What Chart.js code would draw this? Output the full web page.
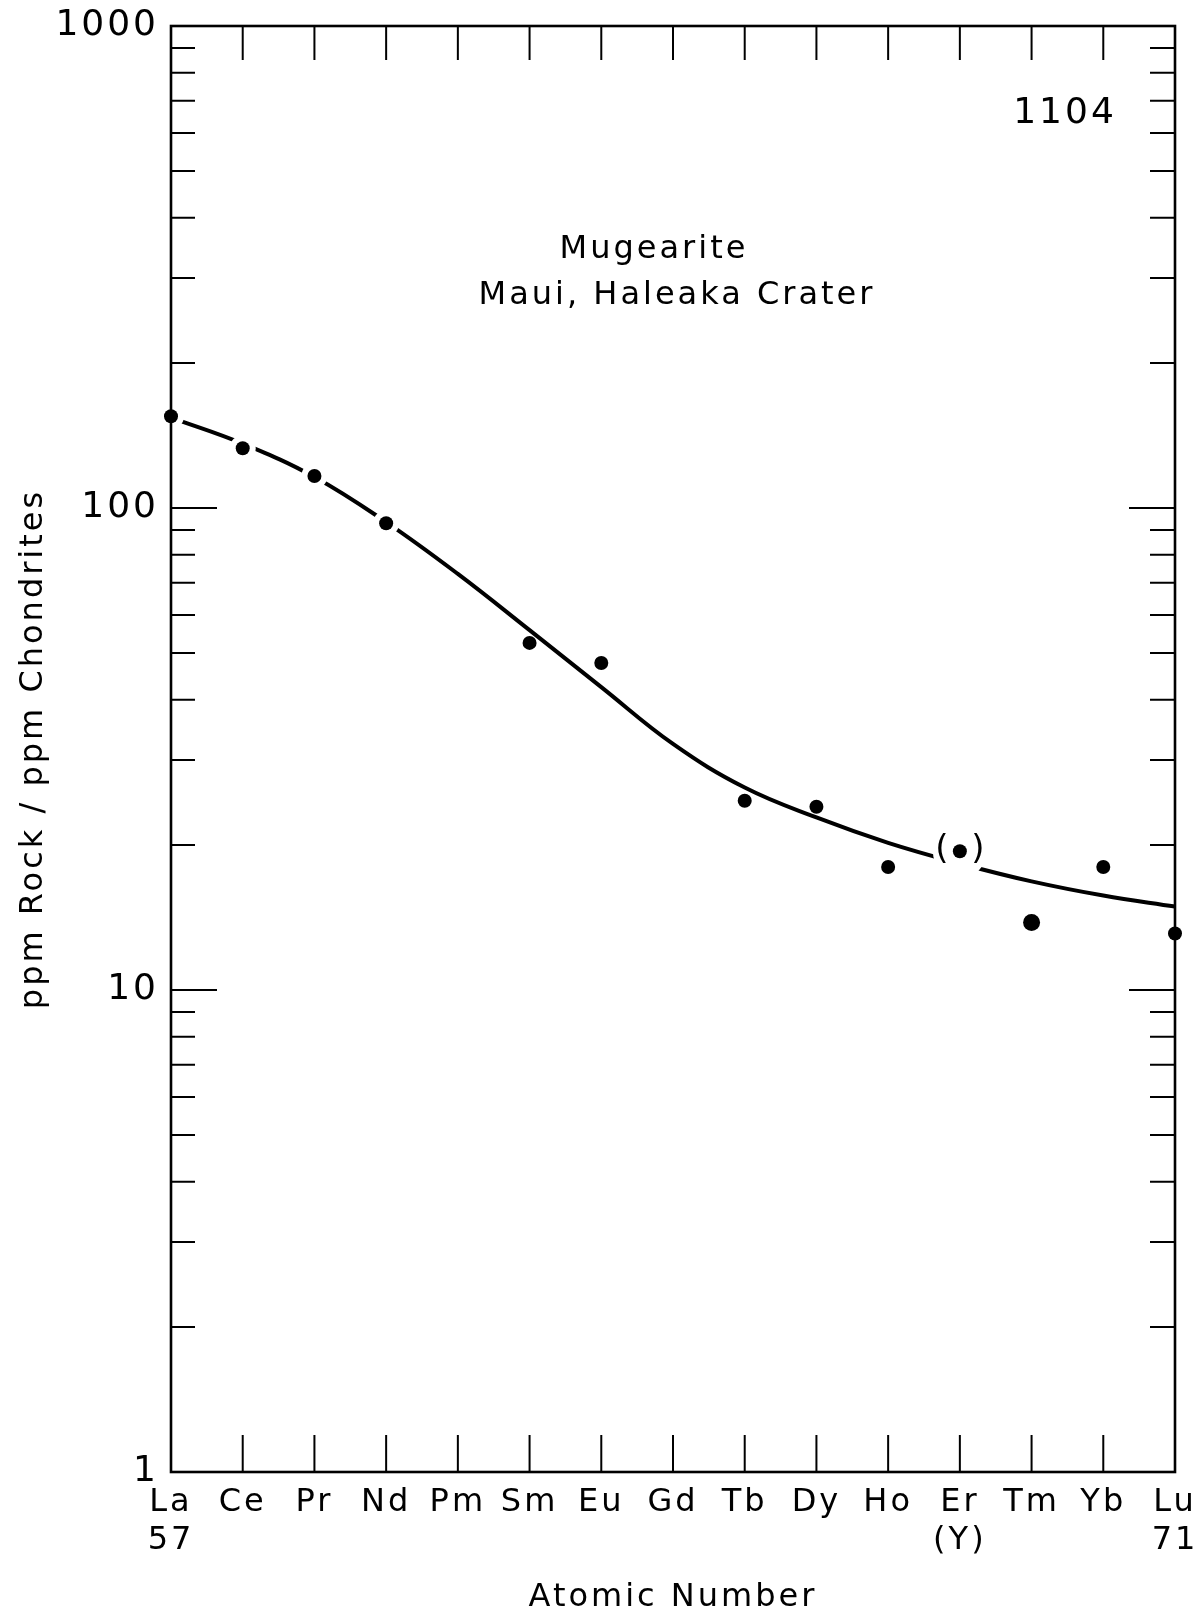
<!DOCTYPE html>
<html>
<head>
<meta charset="utf-8">
<title>Mugearite REE pattern</title>
<script src="https://cdn.jsdelivr.net/npm/chart.js@4.4.1/dist/chart.umd.min.js"></script>
<style>
    html, body { margin: 0; padding: 0; background: #fff; }
    #wrap { width: 1202px; height: 1617px; }
</style>
</head>
<body>
<div id="wrap"><canvas id="reeChart" width="1202" height="1617"></canvas></div>
<script>
// Rare earth elements, La (57) to Lu (71)
const elements = ['La', 'Ce', 'Pr', 'Nd', 'Pm', 'Sm', 'Eu', 'Gd', 'Tb', 'Dy', 'Ho', 'Er', 'Tm', 'Yb', 'Lu'];
const subLabels = ['57', '', '', '', '', '', '', '', '', '', '', '(Y)', '', '', '71'];

// chondrite-normalised abundances (ppm rock / ppm chondrites)
const measured = [155, 133, 116.5, 93, null, 52.5, 47.7, null, 24.7, 24.0, 18.0, 19.4, 13.8, 18.0, 13.1];
// smooth curve drawn through the pattern
const fitted = [154, 136, 116, 93.5, 73, 55.8, 42.5, 32.4, 26.3, 22.8, 20.2, 18.3, 16.8, 15.7, 14.9];

const yTickValues = [1, 10, 100, 1000];
const minorSteps = [2, 3, 4, 5, 6, 7, 8, 9];

const FONT = "'DejaVu Sans', sans-serif";

// line is broken where it runs through these dots
const brokenAt = ['La', 'Ce', 'Pr', 'Nd'];
const bracketedAt = 'Er';

// wide lettering for every text drawn on the canvas
const spacing = {
    id: 'spacing',
    beforeInit(chart) { chart.ctx.letterSpacing = '3px'; },
    beforeDraw(chart) { chart.ctx.letterSpacing = '3px'; }
};

const curveGaps = {
    id: 'curveGaps',
    afterDatasetDraw(chart, args) {
        if (args.index !== 1) return;
        const ctx = chart.ctx;
        const x = chart.scales.x, y = chart.scales.y;
        ctx.save();
        ctx.fillStyle = '#fff';
        brokenAt.forEach(el => {
            const i = elements.indexOf(el);
            ctx.beginPath();
            ctx.arc(x.getPixelForValue(i), y.getPixelForValue(measured[i]), 13, 0, Math.PI * 2);
            ctx.fill();
        });
        const e = elements.indexOf(bracketedAt);
        const ex = x.getPixelForValue(e), ey = y.getPixelForValue(measured[e]);
        ctx.beginPath();
        ctx.arc(ex, ey, 27, 0, Math.PI * 2);
        ctx.fill();
        ctx.fillStyle = '#000';
        ctx.letterSpacing = '0px';
        ctx.font = '34px ' + FONT;
        ctx.textAlign = 'center';
        ctx.textBaseline = 'middle';
        ctx.fillText('(', ex - 18, ey - 1);
        ctx.fillText(')', ex + 18, ey - 1);
        ctx.restore();
    }
};

// frame with inward ticks on all four sides, plus the text block
const frameTicks = {
    id: 'frameTicks',
    afterDraw(chart) {
        const ctx = chart.ctx;
        const a = chart.chartArea;
        const x = chart.scales.x, y = chart.scales.y;
        ctx.save();
        ctx.strokeStyle = '#000';
        ctx.lineWidth = 2.6;
        ctx.strokeRect(a.left, a.top, a.right - a.left, a.bottom - a.top);

        ctx.lineWidth = 2;
        ctx.beginPath();
        for (let i = 1; i < elements.length - 1; i++) {
            const px = x.getPixelForValue(i);
            ctx.moveTo(px, a.top);
            ctx.lineTo(px, a.top + 34);
            ctx.moveTo(px, a.bottom);
            ctx.lineTo(px, a.bottom - 37);
        }
        yTickValues.slice(0, -1).forEach((dec, k) => {
            if (k > 0) {
                const py = y.getPixelForValue(dec);
                ctx.moveTo(a.left, py);
                ctx.lineTo(a.left + 46, py);
                ctx.moveTo(a.right, py);
                ctx.lineTo(a.right - 46, py);
            }
            minorSteps.forEach(s => {
                const py = y.getPixelForValue(dec * s);
                ctx.moveTo(a.left, py);
                ctx.lineTo(a.left + 24, py);
                ctx.moveTo(a.right, py);
                ctx.lineTo(a.right - 25, py);
            });
        });
        ctx.stroke();

        ctx.fillStyle = '#000';
        ctx.textAlign = 'center';
        ctx.textBaseline = 'middle';
        ctx.letterSpacing = '3px';
        ctx.font = '32px ' + FONT;
        ctx.fillText('Mugearite', 654, 250);
        ctx.fillText('Maui, Haleaka Crater', 677, 296);
        ctx.font = '36px ' + FONT;
        ctx.fillText('1104', 1065, 114);
        ctx.restore();
    }
};

new Chart(document.getElementById('reeChart'), {
    type: 'line',
    data: {
        labels: elements,
        datasets: [
            {
                label: 'Measured',
                data: measured,
                showLine: false,
                pointRadius: elements.map(el => el === 'Tm' ? 8.5 : 7),
                pointBackgroundColor: '#000',
                pointBorderWidth: 0,
                clip: false
            },
            {
                label: 'Curve',
                data: fitted,
                borderColor: '#000',
                borderWidth: 4,
                pointRadius: 0,
                tension: 0.4,
                fill: false
            }
        ]
    },
    plugins: [spacing, curveGaps, frameTicks],
    options: {
        responsive: false,
        animation: false,
        events: [],
        layout: { padding: { top: 26, right: 27, left: 0, bottom: 0 } },
        plugins: {
            legend: { display: false },
            tooltip: { enabled: false }
        },
        scales: {
            x: {
                type: 'category',
                grid: { display: false },
                border: { display: false },
                ticks: {
                    autoSkip: false,
                    maxRotation: 0,
                    padding: 3,
                    color: '#000',
                    font: { family: FONT, size: 32 },
                    callback: (v, i) => [elements[i], subLabels[i]]
                },
                title: {
                    display: true,
                    text: 'Atomic Number',
                    color: '#000',
                    font: { family: FONT, size: 32 },
                    padding: { top: 0, bottom: 0 }
                },
                afterFit(scale) {
                    scale.height = 145;
                    scale.paddingLeft = 0;
                    scale.paddingRight = 0;
                }
            },
            y: {
                type: 'logarithmic',
                min: 1,
                max: 1000,
                grid: { display: false },
                border: { display: false },
                afterBuildTicks(scale) {
                    scale.ticks = yTickValues.map(v => ({ value: v }));
                },
                ticks: {
                    padding: 4,
                    color: '#000',
                    font: { family: FONT, size: 36 },
                    callback: v => String(v)
                },
                title: {
                    display: true,
                    text: 'ppm Rock / ppm Chondrites',
                    color: '#000',
                    font: { family: FONT, size: 32 },
                    padding: { top: 14, bottom: 0 }
                },
                afterFit(scale) {
                    scale.width = 171;
                    scale.paddingTop = 0;
                    scale.paddingBottom = 0;
                }
            }
        }
    }
});
</script>
</body>
</html>
